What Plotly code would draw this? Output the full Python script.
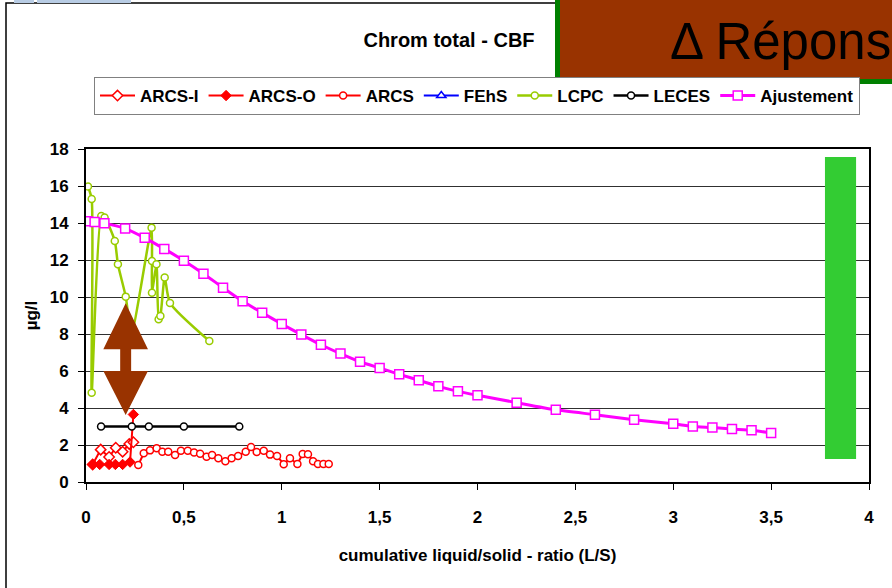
import plotly.graph_objects as go

# ---------------- data ----------------
arcs_i_x = [0.034, 0.075, 0.118, 0.152, 0.187, 0.221, 0.242]
arcs_i_y = [0.95, 1.75, 1.35, 1.85, 1.64, 2.06, 2.15]

arcs_o_x = [0.034, 0.070, 0.118, 0.150, 0.187, 0.225, 0.242]
arcs_o_y = [0.95, 0.95, 0.95, 0.95, 0.95, 1.08, 3.65]

arcs_x = [0.267, 0.295, 0.327, 0.361, 0.390, 0.420, 0.455, 0.485, 0.520, 0.552,
          0.583, 0.616, 0.644, 0.676, 0.712, 0.744, 0.777, 0.816, 0.843, 0.872,
          0.908, 0.940, 0.976, 1.010, 1.042, 1.080, 1.107, 1.134, 1.160, 1.185,
          1.213, 1.240]
arcs_y = [0.92, 1.55, 1.71, 1.82, 1.64, 1.64, 1.46, 1.69, 1.69, 1.60,
          1.53, 1.37, 1.46, 1.28, 1.12, 1.28, 1.41, 1.64, 1.89, 1.62,
          1.69, 1.48, 1.41, 0.96, 1.28, 0.97, 1.51, 1.50, 1.12, 0.97,
          0.97, 0.97]

fehs_x = [None]
fehs_y = [None]

lcpc_x = [0.010, 0.029, 0.029, 0.078, 0.095, 0.147, 0.163, 0.203, 0.232,
          0.335, 0.337, 0.337, 0.360, 0.371, 0.380, 0.402, 0.429, 0.630]
lcpc_y = [15.97, 15.30, 4.83, 14.38, 14.30, 13.03, 11.77, 10.02, 8.00,
          13.75, 11.95, 10.23, 11.77, 8.80, 8.97, 11.06, 9.68, 7.62]

leces_x = [0.077, 0.234, 0.321, 0.500, 0.783]
leces_y = [3.0, 3.0, 3.0, 3.0, 3.0]

ajust_x = [0.007, 0.044, 0.094, 0.2, 0.3, 0.4, 0.5, 0.6, 0.7, 0.8, 0.9, 1.0,
           1.1, 1.2, 1.3, 1.4, 1.5, 1.6, 1.7, 1.8, 1.9, 2.0, 2.2, 2.4, 2.6,
           2.8, 3.0, 3.1, 3.2, 3.3, 3.4, 3.5]
ajust_y = [14.10, 14.05, 13.98, 13.70, 13.20, 12.60, 11.96, 11.26, 10.50,
           9.77, 9.15, 8.54, 7.97, 7.42, 6.94, 6.50, 6.16, 5.82, 5.50, 5.17,
           4.90, 4.69, 4.29, 3.90, 3.64, 3.37, 3.15, 3.00, 2.94, 2.86, 2.80,
           2.65]

x_ticks = [0, 0.5, 1, 1.5, 2, 2.5, 3, 3.5, 4]
x_tick_labels = ["0", "0,5", "1", "1,5", "2", "2,5", "3", "3,5", "4"]
y_ticks = [0, 2, 4, 6, 8, 10, 12, 14, 16, 18]

title_text = "Chrom total - CBF"
x_title = "cumulative liquid/solid - ratio (L/S)"
y_title = "µg/l"
box_text = "Δ Répons"

# ---------------- figure ----------------
FONT = "Liberation Sans, Arial, sans-serif"
RED = "#ff0000"
GREEN_L = "#99cc00"
MAGENTA = "#ff00ff"
BROWN = "#993300"

fig = go.Figure()

fig.add_trace(go.Scatter(
    x=arcs_i_x, y=arcs_i_y, name="ARCS-I", mode="lines+markers",
    line=dict(color=RED, width=2),
    marker=dict(symbol="diamond", size=8, color="white", line=dict(color=RED, width=1.5))))
fig.add_trace(go.Scatter(
    x=arcs_o_x, y=arcs_o_y, name="ARCS-O", mode="lines+markers",
    line=dict(color=RED, width=2),
    marker=dict(symbol="diamond", size=8, color=RED, line=dict(color=RED, width=1))))
fig.add_trace(go.Scatter(
    x=arcs_x, y=arcs_y, name="ARCS", mode="lines+markers",
    line=dict(color=RED, width=2),
    marker=dict(symbol="circle", size=7, color="white", line=dict(color=RED, width=1.5))))
fig.add_trace(go.Scatter(
    x=fehs_x, y=fehs_y, name="FEhS", mode="lines+markers",
    line=dict(color="#0000ff", width=2),
    marker=dict(symbol="triangle-up", size=8, color="white", line=dict(color="#0000ff", width=1.5))))
fig.add_trace(go.Scatter(
    x=lcpc_x, y=lcpc_y, name="LCPC", mode="lines+markers",
    line=dict(color=GREEN_L, width=2.5, shape="spline", smoothing=0.6),
    marker=dict(symbol="circle", size=7, color="white", line=dict(color=GREEN_L, width=1.5))))
fig.add_trace(go.Scatter(
    x=leces_x, y=leces_y, name="LECES", mode="lines+markers",
    line=dict(color="black", width=2.5),
    marker=dict(symbol="circle", size=7, color="white", line=dict(color="black", width=1.5))))
fig.add_trace(go.Scatter(
    x=ajust_x, y=ajust_y, name="Ajustement", mode="lines+markers",
    line=dict(color=MAGENTA, width=3, shape="spline", smoothing=0.5),
    marker=dict(symbol="square", size=9, color="white", line=dict(color=MAGENTA, width=1.5))))

# geometry helpers (plot area px: left 86, right 869, top 149, bottom 482)
L, R, T, B = 86, 869, 149, 482
def px(xp):
    return (xp - L) / (R - L)
def py(yp):
    return (B - yp) / (B - T)

shapes = []
# outer chart border
shapes.append(dict(type="rect", xref="paper", yref="paper",
                   x0=px(6), x1=px(900), y0=py(600), y1=py(3),
                   line=dict(color="black", width=1.5), layer="below"))
# small blue bits at top-left
for a, b in [(14, 34), (37, 131)]:
    shapes.append(dict(type="rect", xref="paper", yref="paper",
                       x0=px(a), x1=px(b), y0=py(3), y1=py(-2),
                       fillcolor="#b8cce4", line=dict(width=0), layer="above"))
# brown box with green border
shapes.append(dict(type="rect", xref="paper", yref="paper",
                   x0=px(557.5), x1=px(905), y0=py(81.5), y1=py(-10),
                   fillcolor=BROWN, line=dict(color="#008000", width=5), layer="above"))
# green vertical bar
shapes.append(dict(type="rect", xref="x", yref="y",
                   x0=3.775, x1=3.934, y0=1.24, y1=17.57,
                   fillcolor="#33cc33", line=dict(width=0), layer="above"))
# brown double arrow
ax_c, hw, sw = 0.2026, 0.114, 0.028
arrow = (f"M {ax_c} 9.66 L {ax_c+hw} 7.17 L {ax_c+sw} 7.17 L {ax_c+sw} 6.0 "
         f"L {ax_c+hw} 6.0 L {ax_c} 3.62 L {ax_c-hw} 6.0 L {ax_c-sw} 6.0 "
         f"L {ax_c-sw} 7.17 L {ax_c-hw} 7.17 Z")
shapes.append(dict(type="path", xref="x", yref="y", path=arrow,
                   fillcolor=BROWN, line=dict(width=0), layer="above"))

annotations = [
    dict(text=box_text, xref="paper", yref="paper", x=px(668), y=py(41),
         xanchor="left", yanchor="middle", showarrow=False,
         font=dict(family=FONT, size=51, color="black")),
]

fig.update_layout(
    width=892, height=588,
    margin=dict(l=L, r=892 - R, t=T, b=588 - B, autoexpand=False),
    paper_bgcolor="white", plot_bgcolor="white",
    font=dict(family=FONT, size=17, color="black"),
    title=dict(text=f"<b>{title_text}</b>", x=449 / 892, xanchor="center",
               y=1 - 40 / 588, yanchor="middle", yref="container",
               font=dict(family=FONT, size=20, color="black")),
    showlegend=True,
    legend=dict(orientation="h", x=px(94), y=py(77), xanchor="left", yanchor="top",
                bgcolor="white", bordercolor="#808080", borderwidth=1,
                itemwidth=35,
                font=dict(family=FONT, size=17, color="black", weight="bold"),
                itemclick=False, tracegroupgap=0),
    shapes=shapes,
    annotations=annotations,
)

fig.update_xaxes(
    range=[0, 4], tickvals=x_ticks, ticktext=x_tick_labels,
    showgrid=False, zeroline=False,
    showline=True, linecolor="black", linewidth=1.5, mirror=True,
    ticks="outside", ticklen=6, tickcolor="black", ticklabelstandoff=13,
    tickfont=dict(family=FONT, size=17, color="black", weight="bold"),
    title=dict(text=f"<b>{x_title}</b>", standoff=23,
               font=dict(family=FONT, size=17, color="black")),
)
fig.update_yaxes(
    range=[0, 18], tickvals=y_ticks,
    showgrid=True, gridcolor="#303030", gridwidth=1, zeroline=False,
    showline=True, linecolor="black", linewidth=2, mirror=True,
    ticks="outside", ticklen=6, tickcolor="black", ticklabelstandoff=6,
    tickfont=dict(family=FONT, size=17, color="black", weight="bold"),
    title=dict(text=f"<b>{y_title}</b>", standoff=8,
               font=dict(family=FONT, size=17, color="black")),
)

fig.write_html("out.html")
